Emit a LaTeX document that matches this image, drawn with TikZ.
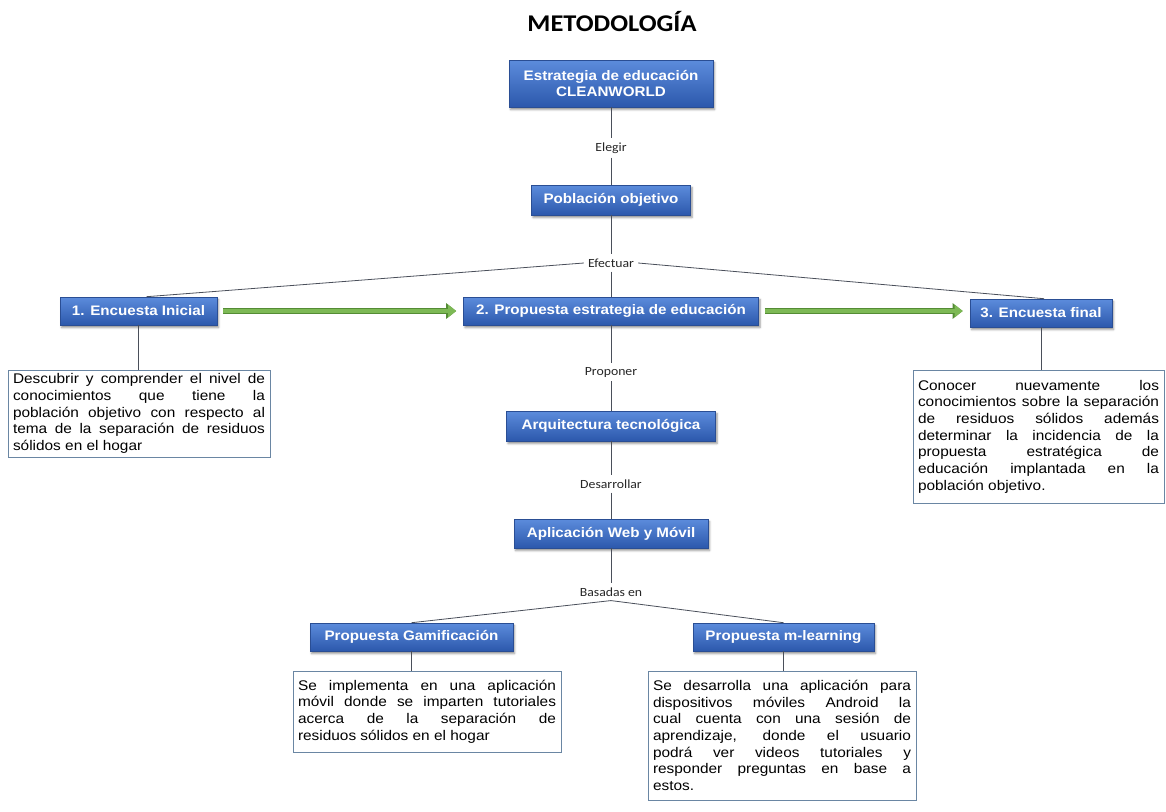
\documentclass[tikz,border=0pt]{standalone}
\usepackage{fontspec}
\usetikzlibrary{arrows.meta,shadows.blur}
\newfontfamily\arialf{Liberation Sans}[FakeStretch=1.1]
\newfontfamily\calf{Carlito}[FakeStretch=1.1]
\definecolor{boxtop}{HTML}{5C8CDC}
\definecolor{boxbot}{HTML}{2C58AC}
\definecolor{boxedge}{HTML}{2A4E94}
\definecolor{noteedge}{HTML}{6A86A3}
\definecolor{linkgray}{HTML}{4A4F5A}
\definecolor{arrowfill}{HTML}{7DB955}
\definecolor{arrowedge}{HTML}{548C35}

\begin{document}
\begin{tikzpicture}[x=1pt, y=-1pt,
    box/.style={rectangle, draw=boxedge, line width=0.6pt, top color=boxtop, bottom color=boxbot,
      text=white, inner sep=2pt, minimum height=28pt,
      font=\arialf\bfseries\fontsize{13.8}{16.7}\selectfont,
      blur shadow={shadow xshift=1.5pt, shadow yshift=-2.5pt, shadow blur steps=4, shadow opacity=45, shadow blur radius=2pt}},
    note/.style={rectangle, draw=noteedge, line width=0.8pt, fill=white, inner xsep=5pt, inner ysep=0pt,
      align=justify, font=\arialf\fontsize{14}{16.7}\selectfont},
    lab/.style={inner sep=4pt, text=black!85, font=\calf\fontsize{12.5}{14}\selectfont},
    link/.style={draw=linkgray, line width=0.8pt},
    fatarrow/.style={draw=arrowfill, line width=4.4pt, -{Triangle[length=8pt, width=12pt]},
      preaction={draw=arrowedge, line width=6pt, -{Triangle[length=10pt, width=15pt]}}}]
    \useasboundingbox (0,0) rectangle (1166,811);

    \node[font=\calf\bfseries\fontsize{24}{28}\selectfont] (titulo) at (612,22) {METODOLOGÍA};

    % columna central
    \node[box, minimum width=204pt, minimum height=47pt, align=center] (cw) at (611,83.5) {Estrategia de educación\\CLEANWORLD};
    \node[lab] (elegir) at (611,148) {Elegir};
    \node[box, minimum width=159pt, minimum height=30pt] (pob) at (611,200) {Población objetivo};
    \node[lab] (efectuar) at (611,263) {Efectuar};
    \node[box, minimum width=295pt] (prop) at (611,311) {2. Propuesta estrategia de educación};
    \node[lab] (proponer) at (611,372) {Proponer};
    \node[box, minimum width=209pt, minimum height=30pt] (arq) at (611,426) {Arquitectura tecnológica};
    \node[lab] (desarrollar) at (611,484) {Desarrollar};
    \node[box, minimum width=194pt, minimum height=29pt] (app) at (611,533.5) {Aplicación Web y Móvil};
    \node[lab] (basadas) at (611,592) {Basadas en};

    % encuestas
    \node[box, minimum width=157pt] (enc1) at (138.5,311) {1. Encuesta Inicial};
    \node[box, minimum width=142pt] (enc3) at (1041,313) {3. Encuesta final};
    \node[note, text width=252pt, minimum height=87pt] (t1) at (139,413.5)
      {Descubrir y comprender el nivel de\linebreak conocimientos que tiene la\linebreak población objetivo con respecto al\linebreak tema de la separación de residuos\linebreak sólidos en el hogar};
    \node[note, text width=241pt, minimum height=133pt] (t3) at (1038.5,436.5)
      {Conocer nuevamente los\linebreak conocimientos sobre la separación\linebreak de residuos sólidos además\linebreak determinar la incidencia de la\linebreak propuesta estratégica de\linebreak educación implantada en la\linebreak población objetivo.};

    % propuestas
    \node[box, minimum width=203pt] (gam) at (411.5,637) {Propuesta Gamificación};
    \node[box, minimum width=181pt] (mlearn) at (783.5,637) {Propuesta m-learning};
    \node[note, text width=258pt, minimum height=81pt] (tgam) at (427,711.5)
      {Se implementa en una aplicación\linebreak móvil donde se imparten tutoriales\linebreak acerca de la separación de\linebreak residuos sólidos en el hogar};
    \node[note, text width=258pt, minimum height=129pt] (tml) at (782,735.5)
      {Se desarrolla una aplicación para\linebreak dispositivos móviles Android la\linebreak cual cuenta con una sesión de\linebreak aprendizaje, donde el usuario\linebreak podrá ver videos tutoriales y\linebreak responder preguntas en base a\linebreak estos.};

    \draw[link] (cw) -- (elegir) (elegir) -- (pob) (pob) -- (efectuar) (efectuar) -- (prop);
    \draw[link] (prop) -- (proponer) (proponer) -- (arq) (arq) -- (desarrollar) (desarrollar) -- (app) (app) -- (basadas);
    \draw[link] (efectuar.west) -- ([xshift=8pt]enc1.north);
    \draw[link] (efectuar.east) -- ([xshift=3pt]enc3.north);
    \draw[link] (basadas.south) -- (gam.north);
    \draw[link] (basadas.south) -- (mlearn.north);
    \foreach \a/\b in {enc1/t1, enc3/t3, gam/tgam, mlearn/tml}{
        \draw[link] (\a.south) -- (\a.south |- \b.north);
    }

    \draw[fatarrow] ([xshift=6pt]enc1.east) -- ([xshift=-7pt]prop.west);
    \draw[fatarrow] ([xshift=6pt]prop.east) -- ([xshift=-7pt]prop.east -| enc3.west);
\end{tikzpicture}
\end{document}
